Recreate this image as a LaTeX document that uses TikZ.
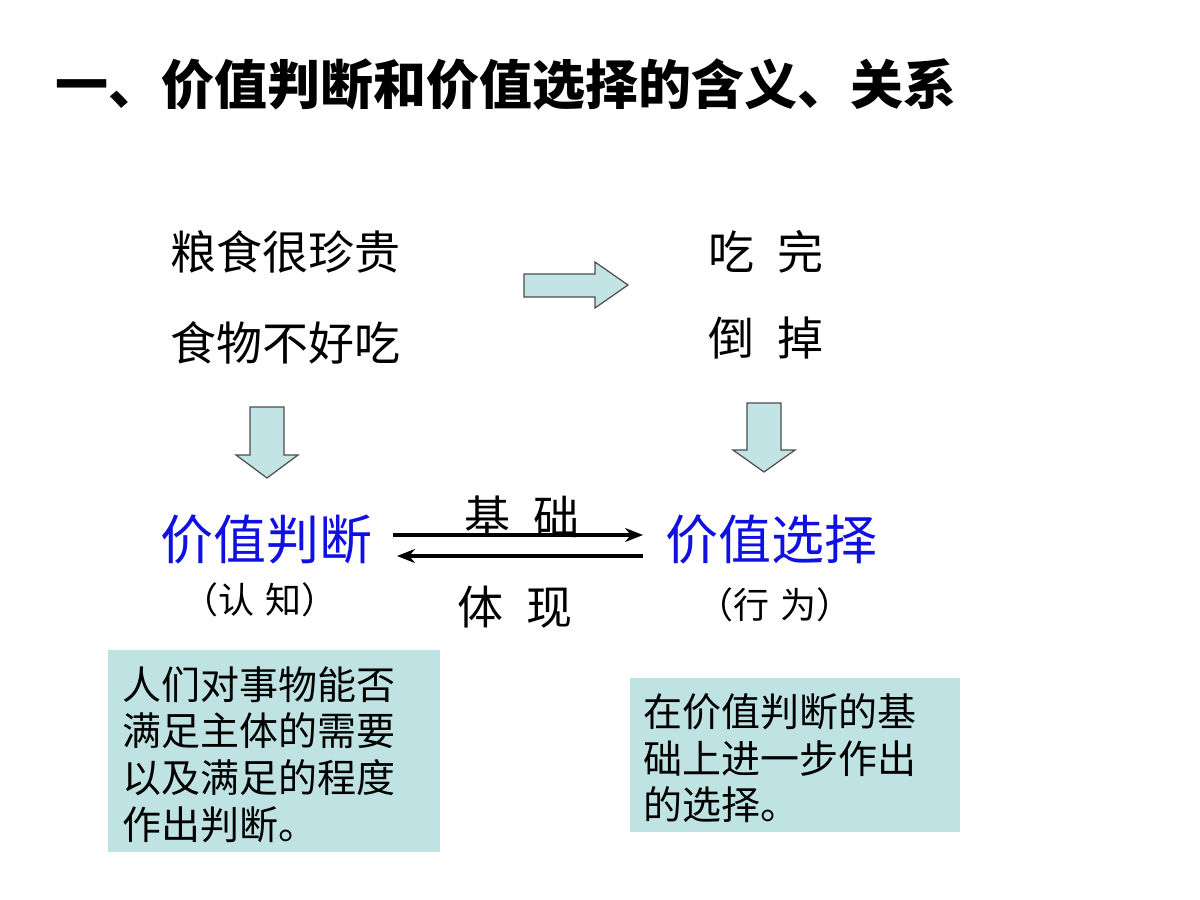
\documentclass[tikz,border=0pt]{standalone}
\usepackage{fontspec}
\setmainfont{Noto Sans CJK SC}
\newfontfamily\cjk{Noto Sans CJK SC}
\usetikzlibrary{arrows.meta}
\definecolor{boxc}{HTML}{BFE3E3}
\definecolor{arr}{HTML}{C2E4E4}
\definecolor{vblue}{HTML}{1010E0}
\tikzset{
 txt/.style={anchor=west,inner sep=0,font=\cjk\fontsize{46}{52}\selectfont},
 big/.style={inner sep=0,font=\cjk\fontsize{53}{60}\selectfont,text=vblue},
 sm/.style={inner sep=0,font=\cjk\fontsize{36}{42}\selectfont},
 blk/.style={fill=arr,draw=black!70,line width=1.2pt},
 lbox/.style={fill=boxc,draw=none},
 btxt/.style={anchor=west,inner sep=0,font=\cjk\fontsize{39}{44}\selectfont},
 rel/.style={line width=4pt,-{Stealth[length=18pt,width=14pt]}}
}
\begin{document}
\begin{tikzpicture}[x=1pt,y=-1pt]
\useasboundingbox (0,0) rectangle (1200,900);
\fill[white] (0,0) rectangle (1200,900);
\node[anchor=west,inner sep=0,font=\cjk\bfseries\fontsize{53}{60}\selectfont] (title) at (55,85) {一、价值判断和价值选择的含义、关系};
\node[txt] (a1) at (170,252) {粮食很珍贵};
\node[txt] (a2) at (170,343) {食物不好吃};
\node[txt] (b1) at (708,252) {吃\hspace{0.5em}完};
\node[txt] (b2) at (708,338) {倒\hspace{0.5em}掉};
\draw[blk] (524,274) -- (595,274) -- (595,262) -- (628,285) -- (595,308) -- (595,297) -- (524,297) -- cycle;
\draw[blk] (250,407) -- (284,407) -- (284,455) -- (298,455) -- (267,478) -- (236,455) -- (250,455) -- cycle;
\draw[blk] (747,403) -- (781,403) -- (781,450) -- (795,450) -- (764,472) -- (733,450) -- (747,450) -- cycle;
\node[big] (vj) at (266,540) {价值判断};
\node[big] (vs) at (771,540) {价值选择};
\node[sm] (rz) at (260,600) {（认\hspace{0.3em}知）};
\node[sm] (xw) at (775,605) {（行\hspace{0.3em}为）};
\node[txt,anchor=center] (jc) at (522,517) {基\hspace{0.5em}础};
\node[txt,anchor=center] (tx) at (515,607) {体\hspace{0.5em}现};
\coordinate (p1) at (393,535); \coordinate (p2) at (643,535);
\coordinate (q1) at (643,556); \coordinate (q2) at (397,556);
\draw[rel] (p1) -- (p2);
\draw[rel] (q1) -- (q2);
\fill[lbox] (108,650) rectangle (440,852);
\node[btxt] (l1) at (122,685) {人们对事物能否};
\node[btxt] (l2) at (122,731) {满足主体的需要};
\node[btxt] (l3) at (122,778) {以及满足的程度};
\node[btxt] (l4) at (122,825) {作出判断。};
\fill[lbox] (630,678) rectangle (960,832);
\node[btxt] (r1) at (643,712) {在价值判断的基};
\node[btxt] (r2) at (643,759) {础上进一步作出};
\node[btxt] (r3) at (643,805) {的选择。};
\end{tikzpicture}
\end{document}
